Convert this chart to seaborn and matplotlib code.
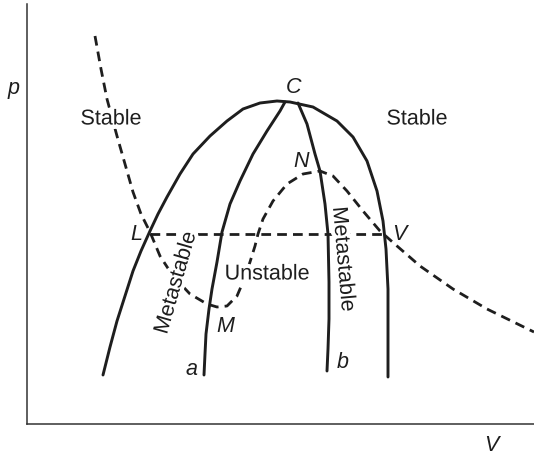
import matplotlib
matplotlib.use("Agg")
import matplotlib.pyplot as plt
import matplotlib.patheffects as pe
import seaborn as sns

# values (V to the right, p upwards, arbitrary units)
binodal_v = [76, 83, 90, 98, 106, 114, 123, 131, 140, 153, 166, 183, 200, 216, 233, 250, 263, 286,
             310, 326, 340, 350, 356, 359, 361, 361, 361]
binodal_p = [49, 77, 103, 128, 153, 173, 193, 210, 227, 250, 270, 288, 303, 315, 321, 323, 322, 317,
             303, 287, 263, 233, 203, 175, 135, 90, 47]

spin_a_v = [258, 253, 240, 226, 213, 203, 195, 190, 185, 182, 179, 178, 177]
spin_a_p = [322, 313, 293, 270, 243, 220, 192, 162, 135, 115, 90, 70, 49]

spin_b_v = [271, 280, 288, 293, 298, 301, 302, 302, 301, 300]
spin_b_p = [321, 300, 270, 253, 220, 190, 142, 105, 75, 53]

iso_v = [68, 74, 80, 90, 98, 106, 114, 123, 133, 146, 163, 180, 190, 200, 210, 216, 223, 228, 231,
         236, 246, 260, 276, 293, 306, 320, 336, 353, 370, 393, 426, 460, 507]
iso_p = [388, 355, 325, 288, 260, 232, 210, 192, 168, 148, 130, 120, 117, 118, 128, 142, 162, 178, 190,
         205, 223, 240, 250, 253, 248, 233, 213, 193, 178, 158, 135, 115, 92]

tie_v = [123, 357]
tie_p = [190, 190]

labels = ["Stable", "Stable", "Unstable", "Metastable", "Metastable"]
label_v = [84, 390, 240, 149, 316]
label_p = [305, 305, 150, 141, 165]
label_rot = [0, 0, 0, 74, -85]

points = ["C", "N", "L", "V", "M", "a", "b"]
point_v = [267, 274, 109, 372, 198, 165, 316]
point_p = [337, 263, 190, 190, 98, 55, 62]

ink = "#1e1e1e"
halo = [pe.withStroke(linewidth=6, foreground="white")]

sns.set_style("white")
plt.rcParams["font.family"] = ["Liberation Sans", "DejaVu Sans"]

fig = plt.figure(figsize=(5.34, 4.56), dpi=100)
ax = fig.add_axes([27 / 534, 31 / 456, 507 / 534, 420 / 456])

# solid curves: coexistence curve and the two stability limits
for xs, ys in [(binodal_v, binodal_p), (spin_a_v, spin_a_p), (spin_b_v, spin_b_p)]:
    sns.lineplot(x=xs, y=ys, sort=False, estimator=None, color=ink, linewidth=2.1,
                 solid_joinstyle="round", ax=ax)

# dashed isotherm and tie line
sns.lineplot(x=iso_v, y=iso_p, sort=False, estimator=None, color=ink, linewidth=2.0,
             linestyle=(0, (3.5, 2.2)), ax=ax)
sns.lineplot(x=tie_v, y=tie_p, sort=False, estimator=None, color=ink, linewidth=2.0,
             linestyle=(0, (3.5, 2.2)), ax=ax)

for txt, v, p, r in zip(labels, label_v, label_p, label_rot):
    ax.text(v, p, txt, rotation=r, fontsize=15.5, color=ink, ha="center", va="center",
            rotation_mode="anchor", path_effects=halo, zorder=5)
for txt, v, p in zip(points, point_v, point_p):
    ax.text(v, p, txt, fontsize=15.5, style="italic", color=ink, ha="center", va="center", zorder=5)

ax.text(-13, 336, "p", fontsize=15.5, style="italic", color=ink, ha="center", va="center")
ax.text(464, -21, "V", fontsize=15.5, style="italic", color=ink, ha="center", va="center")

ax.set_xlim(0, 507)
ax.set_ylim(0, 420)
ax.set_xticks([])
ax.set_yticks([])
sns.despine(ax=ax)
for side in ["left", "bottom"]:
    ax.spines[side].set_color("#333333")
    ax.spines[side].set_linewidth(1.1)

fig.savefig("out.png", dpi=100)
